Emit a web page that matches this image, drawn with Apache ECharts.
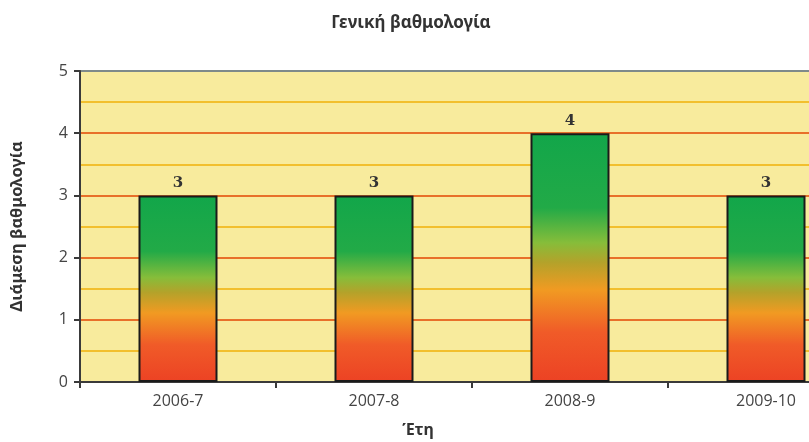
<!DOCTYPE html>
<html><head><meta charset="utf-8">
<script src="https://cdn.jsdelivr.net/npm/echarts@6/dist/echarts.min.js"></script>
<style>html,body{margin:0;padding:0;background:#fff}#c{width:809px;height:442px}</style>
</head><body><div id="c"></div>
<script>
const categories = ['2006-7', '2007-8', '2008-9', '2009-10'];
const scores = [3, 3, 4, 3];
const yTicks = [0, 1, 2, 3, 4, 5];

const chart = echarts.init(document.getElementById('c'));
const barGrad = new echarts.graphic.LinearGradient(0, 0, 0, 1, [
  {offset: 0, color: '#12a64a'},
  {offset: 0.3, color: '#22aa47'},
  {offset: 0.44, color: '#86bd3a'},
  {offset: 0.52, color: '#b4a22a'},
  {offset: 0.63, color: '#f19a22'},
  {offset: 0.8, color: '#f05b28'},
  {offset: 1, color: '#ec4224'}
]);
chart.setOption({
  animation: false,
  grid: {left: 80, top: 71, width: 784, height: 311, show: true, backgroundColor: '#f8eb9d', borderWidth: 0, outerBoundsMode: 'none', containLabel: false},
  graphic: [
    {type: 'text', x: 411, y: 23, style: {text: 'Γενική βαθμολογία', font: 'bold 17px "Noto Sans"', fill: '#333', textAlign: 'center', textVerticalAlign: 'middle'}},
    {type: 'text', x: 418, y: 430, style: {text: 'Έτη', font: 'bold 16px "Noto Sans"', fill: '#333', textAlign: 'center', textVerticalAlign: 'middle'}}
  ],
  xAxis: {
    type: 'category', data: categories,
    axisLine: {lineStyle: {color: '#3a3a3a', width: 2}},
    axisTick: {show: true, length: 6, lineStyle: {color: '#3a3a3a', width: 2}},
    axisLabel: {fontFamily: 'Open Sans', fontSize: 16, color: '#444', margin: 11},
    splitLine: {show: false}
  },
  yAxis: {
    type: 'value', min: yTicks[0], max: yTicks[yTicks.length - 1], interval: 1,
    name: 'Διάμεση βαθμολογία', nameLocation: 'middle', nameGap: 54, nameRotate: 90,
    nameTextStyle: {fontFamily: 'Noto Sans', fontWeight: 'bold', fontSize: 16.5, color: '#333'},
    axisLine: {show: true, lineStyle: {color: '#3a3a3a', width: 2}},
    axisTick: {show: true, length: 6, lineStyle: {color: '#3a3a3a', width: 2}},
    axisLabel: {fontFamily: 'Open Sans', fontSize: 16, color: '#444', margin: 12},
    splitLine: {show: true, lineStyle: {color: ['#e8702a', '#e8702a', '#e8702a', '#e8702a', '#e8702a', '#7f8a8a'], width: 2}},
    minorTick: {show: false, splitNumber: 2},
    minorSplitLine: {show: true, lineStyle: {color: '#f2bf2e', width: 2}}
  },
  series: [{
    type: 'bar', data: scores, barWidth: 79,
    itemStyle: {color: barGrad, borderColor: '#1a1a1a', borderWidth: 2},
    label: {show: true, position: 'top', distance: 5, fontFamily: 'DejaVu Serif', fontWeight: 'bold', fontSize: 15, color: '#333'}
  }]
});
</script></body></html>
